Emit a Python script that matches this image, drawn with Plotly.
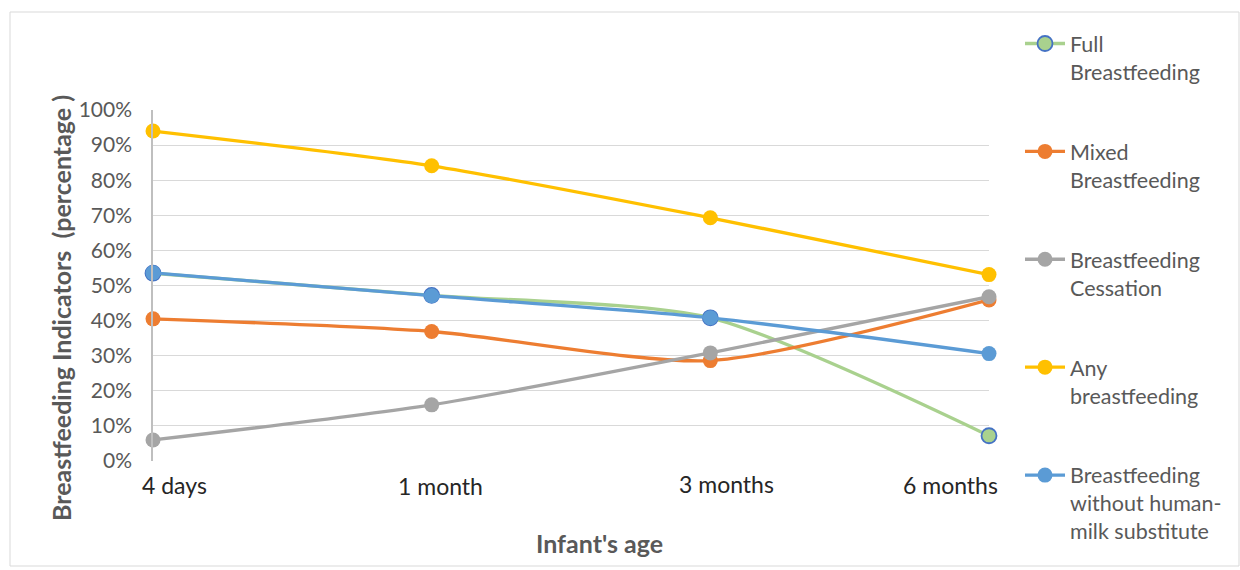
import plotly.graph_objects as go

ages = ["4 days", "1 month", "3 months", "6 months"]
series_names = ["Full<br>Breastfeeding", "Mixed<br>Breastfeeding", "Breastfeeding<br>Cessation",
                "Any<br>breastfeeding", "Breastfeeding<br>without human-<br>milk substitute"]
full_bf = [53.5, 47.2, 40.8, 7.2]
mixed_bf = [40.5, 36.9, 28.6, 45.9]
cessation = [6.0, 16.0, 30.8, 46.8]
any_bf = [94.0, 84.1, 69.3, 53.1]
without_sub = [53.6, 47.1, 40.8, 30.6]

colors = ["#A9D18E", "#ED7D31", "#A5A5A5", "#FFC000", "#5B9BD5"]
marker_lines = ["#4472C4", "#ED7D31", "#A5A5A5", "#FFC000", "#5B9BD5"]
tick_xshift = [21, 9, 16, -39]
tick_yshift = [0, -1, 1, 0]

fig = go.Figure()
xs = list(range(len(ages)))
for i, (name, vals) in enumerate(zip(series_names, [full_bf, mixed_bf, cessation, any_bf, without_sub])):
    fig.add_trace(go.Scatter(
        x=xs, y=vals, name=name, mode="lines+markers",
        line=dict(color=colors[i], width=3.3, shape="spline", smoothing=0.7),
        marker=dict(size=15, color=colors[i], line=dict(color=marker_lines[i], width=1.8 if i == 0 else 0)),
        cliponaxis=False, legendgroup=str(i),
    ))

for i, lab in enumerate(ages):
    fig.add_annotation(x=xs[i], y=0, xref="x", yref="y", text=lab, showarrow=False,
                       yanchor="top", yshift=-8 + tick_yshift[i], xshift=tick_xshift[i],
                       font=dict(size=23, color="#262626", family="Lato"))

fig.add_annotation(x=(599 - 153) / 836, y=(461 - 543) / 351, xref="paper", yref="paper",
                   xanchor="center", yanchor="middle",
                   text="<b>Infant's age</b>", showarrow=False,
                   font=dict(size=25, color="#595959", family="Lato"))
fig.add_annotation(x=(61 - 153) / 836, y=(461 - 308) / 351, xref="paper", yref="paper",
                   xanchor="center", yanchor="middle",
                   text="<b>Breastfeeding Indicators  (percentage )</b>", showarrow=False, textangle=-90,
                   font=dict(size=25, color="#595959", family="Lato"))

fig.add_shape(type="rect", xref="paper", yref="paper",
              x0=(10 - 153) / 836, x1=(1239 - 153) / 836, y0=(461 - 566) / 351, y1=(461 - 12) / 351,
              line=dict(color="#D9D9D9", width=1))

fig.update_xaxes(range=[0, 3], showgrid=False, showticklabels=False, zeroline=False,
                 showline=False, fixedrange=True)
fig.update_yaxes(range=[0, 100], tickvals=list(range(0, 101, 10)),
                 ticktext=[f"{v}%" for v in range(0, 101, 10)],
                 showgrid=True, gridcolor="#D9D9D9", gridwidth=1, zeroline=False,
                 showline=True, linecolor="#BFBFBF", linewidth=1.5,
                 tickfont=dict(size=21, color="#595959", family="Lato"), ticks="", ticklabelstandoff=15)

fig.update_layout(
    width=1240, height=570,
    margin=dict(l=153, r=251, t=110, b=109),
    paper_bgcolor="white", plot_bgcolor="white",
    font=dict(family="Lato", color="#595959"),
    legend=dict(x=(1020 - 153) / 836, y=(461 - 23) / 351, xanchor="left", yanchor="top",
                tracegroupgap=49, valign="top", font=dict(size=21.5, color="#595959", family="Lato"),
                itemwidth=40, maxheight=900),
)
fig.write_html("out.html", config={"displayModeBar": False},
               post_script="document.body.style.margin='0';document.body.style.overflow='hidden';")
